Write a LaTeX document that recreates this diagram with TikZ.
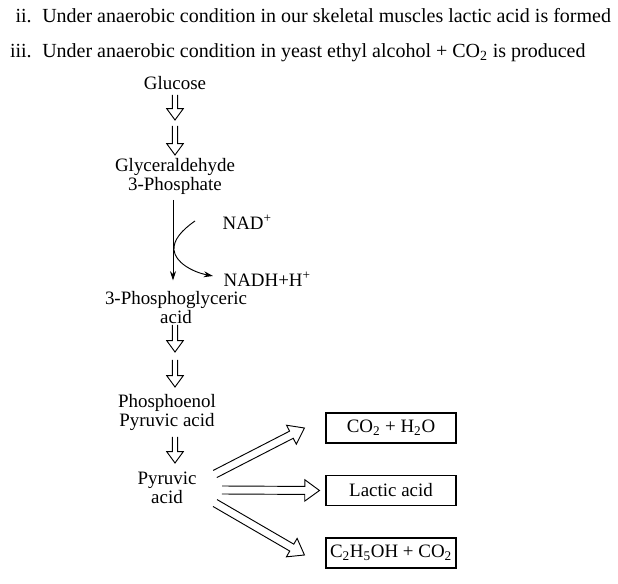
\documentclass[tikz,border=0pt]{standalone}
\usepackage{fontspec}
\setmainfont{Liberation Serif}
\usetikzlibrary{calc,arrows.meta}
\newcommand\hollowarr[5]{%
  \path let \p1=#1, \p2=#2, \n1={atan2(\y2-\y1,\x2-\x1)}, \n2={veclen(\x2-\x1,\y2-\y1)} in
    \pgfextra{\pgfmathsetmacro\hang{\n1}\xdef\hang{\hang}\pgfmathsetmacro\hlen{\n2}\xdef\hlen{\hlen}};
  \begin{scope}[shift={#1}, rotate=\hang, x=1pt, y=1pt]
    \draw[arrline] (0,#3) -- (\hlen-#5,#3) -- (\hlen-#5,#4) -- (\hlen,0) -- (\hlen-#5,-#4) -- (\hlen-#5,-#3) -- (0,-#3);
  \end{scope}}
\begin{document}
\begin{tikzpicture}[x=0.75pt,y=-0.75pt,
  every node/.style={font=\fontsize{14.2}{14.3}\selectfont, inner sep=1pt},
  head/.style={font=\fontsize{15}{16}\selectfont, inner sep=0pt},
  lbl/.style={align=center},
  box/.style={draw, line width=0.8pt, minimum width=97.5pt, minimum height=22.5pt},
  arrline/.style={line width=0.7pt, line join=miter},
  thin arrow/.style={line width=0.7pt, -{Stealth[length=7pt,width=4.5pt]}}]
\useasboundingbox (0,0) rectangle (618,584);
% header
\node[head, anchor=base east] (n1) at (32,23) {ii.};
\node[head, anchor=base west] (t1) at (42,23) {Under anaerobic condition in our skeletal muscles lactic acid is formed};
\node[head, anchor=base east] (n2) at (32,58) {iii.};
\node[head, anchor=base west] (t2) at (42,58) {Under anaerobic condition in yeast ethyl alcohol + CO\textsubscript{2} is produced};
% pathway
\node[lbl] (glu) at (175,83) {Glucose};
\node[lbl] (gly) at (175,176.5) {Glyceraldehyde\\3-Phosphate};
\node[lbl] (pga) at (176,307.5) {3-Phosphoglyceric\\acid};
\node[lbl] (pep) at (167,412.5) {Phosphoenol\\Pyruvic acid};
\node[lbl] (pyr) at (167,488) {Pyruvic\\acid};
\node[anchor=west] (nad) at (221,222) {NAD\textsuperscript{+}};
\node[anchor=west] (nadh) at (222,279) {NADH+H\textsuperscript{+}};
\node[box] (co2) at (391,428) {CO\textsubscript{2} + H\textsubscript{2}O};
\node[box] (lac) at (391,490.5) {Lactic acid};
\node[box] (eth) at (391,553) {C\textsubscript{2}H\textsubscript{5}OH + CO\textsubscript{2}};
% hollow vertical arrows
\hollowarr{($(glu)+(0,12)$)}{($(glu)+(0,37)$)}{2}{6.2}{8.5}
\hollowarr{($(glu)+(0,43)$)}{($(glu)+(0,72)$)}{2}{6.2}{8.5}
\hollowarr{($(pga)+(-1,17.5)$)}{($(pga)+(-1,44.5)$)}{2}{6.2}{8.5}
\hollowarr{($(pga)+(-1,52.5)$)}{($(pga)+(-1,79.5)$)}{2}{6.2}{8.5}
\hollowarr{($(pep)+(8,24.5)$)}{($(pep)+(8,50.5)$)}{2}{6.2}{8.5}
% thin arrows
\coordinate (vs) at ($(gly)+(-2,23.5)$);
\coordinate (ve) at ($(gly)+(-2,104)$);
\draw[thin arrow] (vs) -- (ve);
\coordinate (cs) at (195,221);
\draw[thin arrow] (cs) .. controls (182,230) and (173,240) .. (174,250)
  .. controls (175,262) and (192,272) .. ($(nadh.west)+(-9,-3)$);
% branching hollow arrows
\hollowarr{($(pyr)+(48,-14)$)}{($(co2.west)+(-21,0)$)}{3}{8}{11}
\hollowarr{($(pyr)+(55,2)$)}{($(lac.west)+(-6,0)$)}{3}{8}{11}
\hollowarr{($(pyr)+(48,15)$)}{($(eth.west)+(-21,2)$)}{3}{8}{11}
\end{tikzpicture}
\end{document}
